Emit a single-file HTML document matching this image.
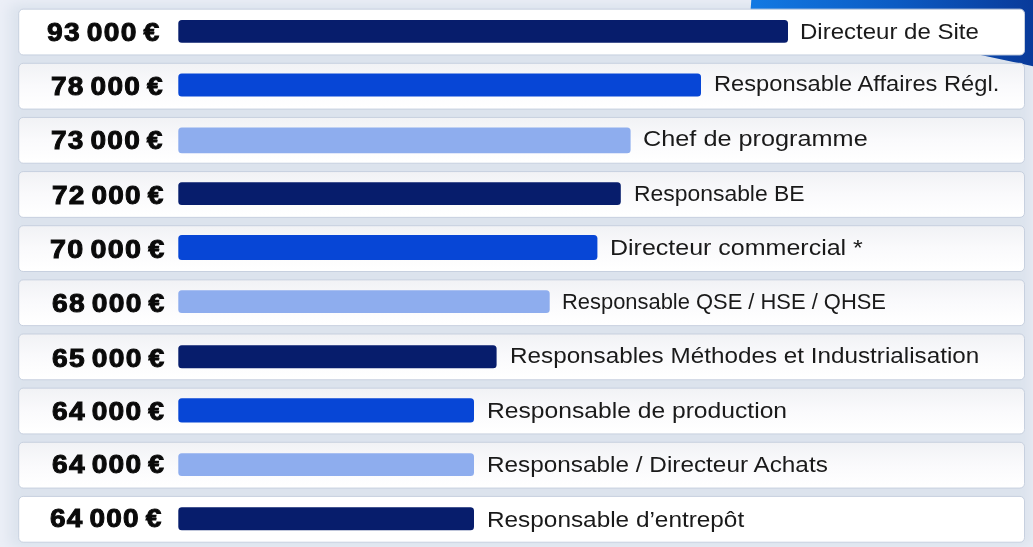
<!DOCTYPE html>
<html><head><meta charset="utf-8">
<style>
html,body{margin:0;padding:0}
body{width:1033px;height:547px;overflow:hidden;position:relative;background:#eceff7;font-family:"Liberation Sans",sans-serif}
.bg{position:absolute;left:0;top:0}
.val{position:absolute;height:46px;line-height:46px;font-weight:bold;font-size:25px;color:#0a0a0a;white-space:nowrap;letter-spacing:1.1px;word-spacing:-2.8px;-webkit-text-stroke:0.95px #0a0a0a;transform-origin:0 50%}
.lab{position:absolute;height:46px;line-height:46px;font-size:21.5px;color:#1a1a1a;white-space:nowrap;transform-origin:0 50%}
</style></head><body>
<svg class="bg" width="1033" height="547" viewBox="0 0 1033 547">
<defs><linearGradient id="g" x1="751" y1="0" x2="1033" y2="0" gradientUnits="userSpaceOnUse"><stop offset="0" stop-color="#1279e3"/><stop offset="0.5" stop-color="#0c5cc4"/><stop offset="1" stop-color="#093a9a"/></linearGradient>
<linearGradient id="cg" x1="0" y1="0" x2="0" y2="1"><stop offset="0" stop-color="#f1f2f5"/><stop offset="0.5" stop-color="#fafafc"/><stop offset="0.95" stop-color="#ffffff"/></linearGradient>
<filter id="sh" x="-5%" y="-5%" width="110%" height="110%"><feGaussianBlur stdDeviation="7 6"/></filter></defs>
<rect filter="url(#sh)" x="9" y="3.2" width="1023.5" height="545" rx="8" fill="#dce3ed"/>
<polygon points="751.3,0 1033,0 1033,66.2 800,16.3 750.3,14" fill="url(#g)"/>
<rect x="18.70" y="9.15" width="1005.80" height="45.80" rx="4.5" fill="#ffffff" stroke="#c7d0df" stroke-width="1"/>
<rect x="18.70" y="63.29" width="1005.80" height="45.80" rx="4.5" fill="url(#cg)" stroke="#c7d0df" stroke-width="1"/>
<rect x="18.70" y="117.43" width="1005.80" height="45.80" rx="4.5" fill="url(#cg)" stroke="#c7d0df" stroke-width="1"/>
<rect x="18.70" y="171.57" width="1005.80" height="45.80" rx="4.5" fill="url(#cg)" stroke="#c7d0df" stroke-width="1"/>
<rect x="18.70" y="225.71" width="1005.80" height="45.80" rx="4.5" fill="url(#cg)" stroke="#c7d0df" stroke-width="1"/>
<rect x="18.70" y="279.85" width="1005.80" height="45.80" rx="4.5" fill="url(#cg)" stroke="#c7d0df" stroke-width="1"/>
<rect x="18.70" y="333.99" width="1005.80" height="45.80" rx="4.5" fill="url(#cg)" stroke="#c7d0df" stroke-width="1"/>
<rect x="18.70" y="388.13" width="1005.80" height="45.80" rx="4.5" fill="url(#cg)" stroke="#c7d0df" stroke-width="1"/>
<rect x="18.70" y="442.27" width="1005.80" height="45.80" rx="4.5" fill="url(#cg)" stroke="#c7d0df" stroke-width="1"/>
<rect x="18.70" y="496.41" width="1005.80" height="45.80" rx="4.5" fill="#ffffff" stroke="#c7d0df" stroke-width="1"/>
<rect x="178.3" y="20.1" width="609.7" height="22.7" rx="3.5" fill="#071d6c"/>
<rect x="178.3" y="73.5" width="522.7" height="23.0" rx="3.5" fill="#0746d6"/>
<rect x="178.3" y="127.5" width="452.3" height="25.7" rx="3.5" fill="#8eadee"/>
<rect x="178.3" y="182.3" width="442.5" height="22.8" rx="3.5" fill="#071d6c"/>
<rect x="178.3" y="234.9" width="419.1" height="25.2" rx="3.5" fill="#0746d6"/>
<rect x="178.3" y="290.3" width="371.4" height="22.8" rx="3.5" fill="#8eadee"/>
<rect x="178.3" y="345.3" width="318.3" height="23.0" rx="3.5" fill="#071d6c"/>
<rect x="178.3" y="398.2" width="295.7" height="24.3" rx="3.5" fill="#0746d6"/>
<rect x="178.3" y="453.3" width="295.7" height="22.7" rx="3.5" fill="#8eadee"/>
<rect x="178.3" y="507.3" width="295.7" height="23.0" rx="3.5" fill="#071d6c"/>
</svg>
<span class="val" style="left:47.44px;top:9px;transform:scaleX(1.1293)">93 000 €</span><span class="lab" style="left:800.33px;top:9px;transform:scaleX(1.1167)">Directeur de Site</span>
<span class="val" style="left:50.94px;top:63px;transform:scaleX(1.1222)">78 000 €</span><span class="lab" style="left:713.51px;top:61px;transform:scaleX(1.1016)">Responsable Affaires Régl.</span>
<span class="val" style="left:51.23px;top:117px;transform:scaleX(1.1210)">73 000 €</span><span class="lab" style="left:643.11px;top:116px;transform:scaleX(1.1751)">Chef de programme</span>
<span class="val" style="left:51.94px;top:172px;transform:scaleX(1.1192)">72 000 €</span><span class="lab" style="left:634.08px;top:171px;transform:scaleX(1.0652)">Responsable BE</span>
<span class="val" style="left:49.85px;top:226px;transform:scaleX(1.1484)">70 000 €</span><span class="lab" style="left:609.89px;top:225px;transform:scaleX(1.1628)">Directeur commercial *</span>
<span class="val" style="left:51.58px;top:280px;transform:scaleX(1.1293)">68 000 €</span><span class="lab" style="left:561.57px;top:279px;transform:scaleX(1.0192)">Responsable QSE / HSE / QHSE</span>
<span class="val" style="left:51.58px;top:335px;transform:scaleX(1.1293)">65 000 €</span><span class="lab" style="left:509.67px;top:333px;transform:scaleX(1.1283)">Responsables Méthodes et Industrialisation</span>
<span class="val" style="left:51.94px;top:388px;transform:scaleX(1.1263)">64 000 €</span><span class="lab" style="left:486.92px;top:388px;transform:scaleX(1.1462)">Responsable de production</span>
<span class="val" style="left:52.01px;top:441px;transform:scaleX(1.1263)">64 000 €</span><span class="lab" style="left:486.95px;top:442px;transform:scaleX(1.1317)">Responsable / Directeur Achats</span>
<span class="val" style="left:50.44px;top:495px;transform:scaleX(1.1202)">64 000 €</span><span class="lab" style="left:486.95px;top:497px;transform:scaleX(1.1324)">Responsable d’entrepôt</span>
</body></html>
